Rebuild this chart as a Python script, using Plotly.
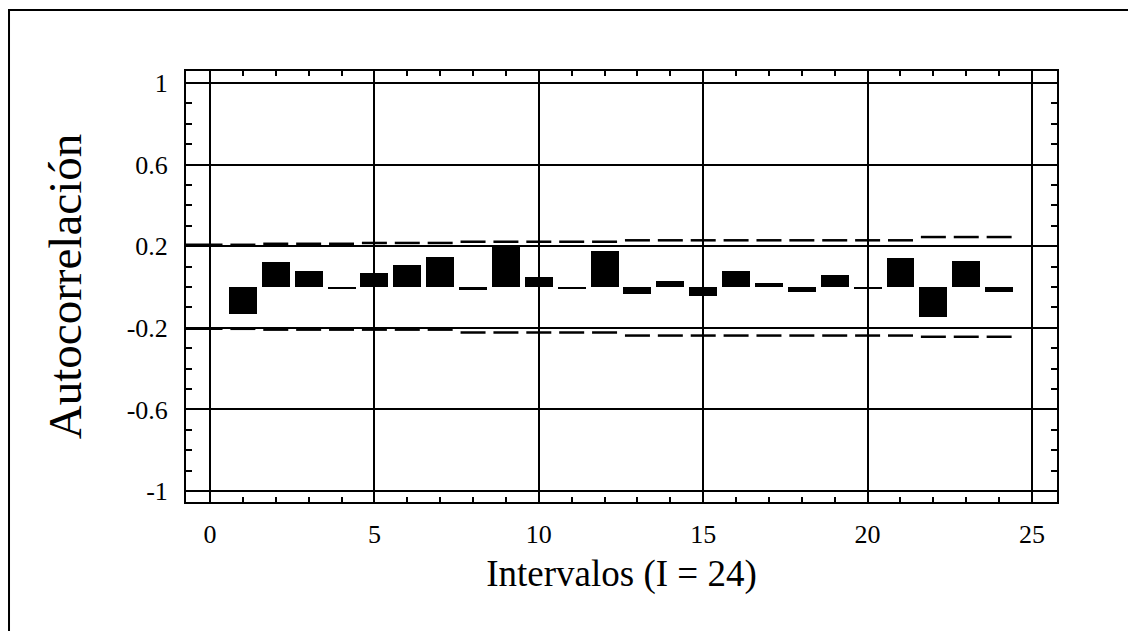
import plotly.graph_objects as go

# Lags and autocorrelation values
lags = list(range(1, 25))
acf = [-0.132, 0.121, 0.078, -0.012, 0.070, 0.109, 0.147, -0.015, 0.207, 0.050,
       -0.010, 0.175, -0.034, 0.028, -0.043, 0.078, 0.021, -0.023, 0.057, -0.012,
       0.142, -0.149, 0.126, -0.026]

# Confidence limits per lag (lag 0..24)
bound_lags = list(range(0, 25))
upper = [0.207, 0.207, 0.212, 0.212, 0.212, 0.216, 0.216, 0.216,
         0.222, 0.222, 0.222, 0.222, 0.222,
         0.229, 0.229, 0.229, 0.229, 0.229, 0.229, 0.229, 0.229, 0.229,
         0.245, 0.245, 0.245]
lower = [-0.205, -0.205, -0.209, -0.209, -0.209, -0.209, -0.209, -0.209,
         -0.223, -0.223, -0.223, -0.223, -0.223,
         -0.238, -0.238, -0.238, -0.238, -0.238, -0.238, -0.238, -0.238, -0.238,
         -0.244, -0.244, -0.244]

x_ticks = [0, 5, 10, 15, 20, 25]
y_ticks = [-1, -0.6, -0.2, 0.2, 0.6, 1]
y_ticktext = ["-1", "-0.6", "-0.2", "0.2", "0.6", "1"]

XMIN, XMAX = -0.73, 25.76
YMIN, YMAX = -1.054, 1.059
HALF = 0.38  # half-length of each limit dash

FONT = "Liberation Serif"

def dash_segments(xs, ys):
    px, py = [], []
    for i, (x, y) in enumerate(zip(xs, ys)):
        x0 = XMIN if i == 0 else x - HALF
        px += [x0, x + HALF, None]
        py += [y, y, None]
    return px, py

fig = go.Figure()
fig.add_trace(go.Bar(x=lags, y=acf, width=0.85, marker=dict(color="black", line=dict(width=0)),
                     showlegend=False))
ux, uy = dash_segments(bound_lags, upper)
lx, ly = dash_segments(bound_lags, lower)
fig.add_trace(go.Scatter(x=ux, y=uy, mode="lines", line=dict(color="black", width=2.5),
                         showlegend=False, connectgaps=False))
fig.add_trace(go.Scatter(x=lx, y=ly, mode="lines", line=dict(color="black", width=2.5),
                         showlegend=False, connectgaps=False))

fig.update_layout(
    width=1136, height=631,
    margin=dict(l=178, r=87, t=63, b=137),
    paper_bgcolor="white", plot_bgcolor="white",
    font=dict(family=FONT, color="black"),
    bargap=0,
)
fig.update_xaxes(
    range=[XMIN, XMAX], tickmode="array", tickvals=x_ticks, automargin=False,
    showgrid=True, gridcolor="black", gridwidth=1.5,
    zeroline=False, showline=True, linecolor="black", linewidth=2, mirror="allticks",
    ticks="inside", ticklen=8, tickwidth=2, tickcolor="black",
    minor=dict(dtick=1, tick0=0, ticks="inside", ticklen=5, tickwidth=2, tickcolor="black", showgrid=False),
    tickfont=dict(family=FONT, size=26, color="black"),
    ticklabelstandoff=8,
    title=dict(text="Intervalos (I = 24)", font=dict(family=FONT, size=37, color="black"), standoff=12),
)
fig.update_yaxes(
    range=[YMIN, YMAX], tickmode="array", tickvals=y_ticks, ticktext=y_ticktext, automargin=False,
    showgrid=True, gridcolor="black", gridwidth=1.5,
    zeroline=False, showline=True, linecolor="black", linewidth=2, mirror="allticks",
    ticks="inside", ticklen=8, tickwidth=2, tickcolor="black",
    minor=dict(dtick=0.1, tick0=0, ticks="inside", ticklen=6, tickwidth=2, tickcolor="black", showgrid=False),
    tickfont=dict(family=FONT, size=26, color="black"),
    ticklabelstandoff=11,
    title=dict(text="Autocorrelación", font=dict(family=FONT, size=47, color="black"), standoff=30),
)

# Outer frame (top and left edges visible)
fig.add_shape(type="rect", xref="paper", yref="paper",
              x0=-0.2032, x1=1.2, y0=-0.4, y1=1.1415,
              line=dict(color="black", width=2), fillcolor="rgba(0,0,0,0)", layer="below")

fig.write_html("out.html")
